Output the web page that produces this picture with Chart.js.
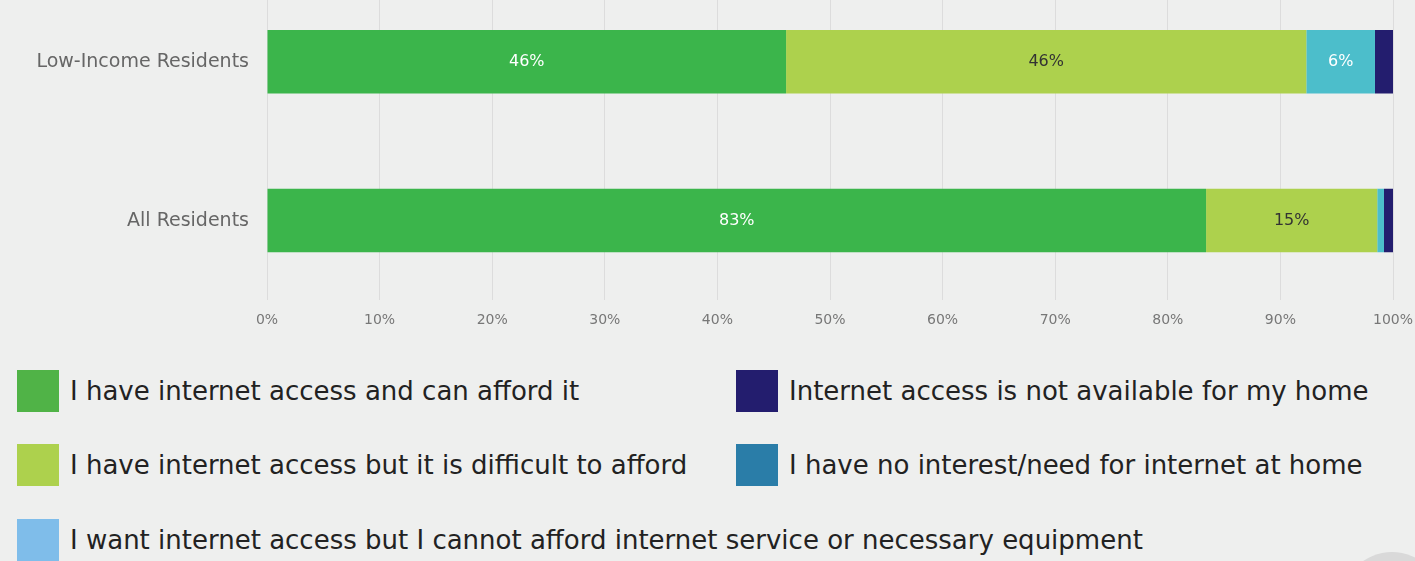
<!DOCTYPE html>
<html>
<head>
<meta charset="utf-8">
<script src="https://cdn.jsdelivr.net/npm/chart.js@4/dist/chart.umd.min.js"></script>
<style>
    html, body { margin: 0; padding: 0; }
    body {
        width: 1415px;
        height: 561px;
        overflow: hidden;
        position: relative;
        background: #EEEFEE;
        font-family: 'DejaVu Sans', sans-serif;
    }
    #chartWrap { position: absolute; left: 0; top: -47px; width: 1415px; height: 387px; }
    .legend-item { position: absolute; height: 42px; display: flex; align-items: center; }
    .legend-swatch { width: 42px; height: 42px; flex: none; }
    .legend-text { margin-left: 11px; font-size: 26px; color: #222; white-space: nowrap; }
    .corner-dot {
        position: absolute; left: 1341px; top: 552px;
        width: 102px; height: 102px; border-radius: 50%; background: #D9D9D9;
    }
</style>
</head>
<body>
<div id="chartWrap"><canvas id="accessChart" width="1415" height="387"></canvas></div>
<div id="legend"></div>
<div class="corner-dot"></div>
<script>
// 各组居民的上网情况（百分比）
const categories = ['Low-Income Residents', 'All Residents'];
const seriesLabels = [
    'I have internet access and can afford it',
    'I have internet access but it is difficult to afford',
    'I want internet access but I cannot afford internet service or necessary equipment',
    'Internet access is not available for my home',
    'I have no interest/need for internet at home'
];
const affordable = [46.1, 83.4];
const difficult = [46.2, 15.2];
const cannotAfford = [6.1, 0.6];
const notAvailable = [1.6, 0.8];
const noInterest = [0, 0];
const xTicks = [0, 10, 20, 30, 40, 50, 60, 70, 80, 90, 100];

const barColors = ['#3BB54B', '#ADD14D', '#4CBECB', '#231D6E', '#2A7DA8'];
const swatchColors = ['#50B347', '#ADD14D', '#7FBDEA', '#231D6E', '#2A7DA8'];
const labelColors = ['#FFFFFF', '#333333', '#FFFFFF', '#FFFFFF', '#FFFFFF'];
const seriesValues = [affordable, difficult, cannotAfford, notAvailable, noInterest];

const FONT = "'DejaVu Sans', sans-serif";

// 柱内百分比标签（太窄的段不画）
const barLabels = {
    id: 'barLabels',
    afterDatasetsDraw(chart) {
        const ctx = chart.ctx;
        ctx.save();
        ctx.font = '16px ' + FONT;
        ctx.textAlign = 'center';
        ctx.textBaseline = 'middle';
        chart.data.datasets.forEach((ds, i) => {
            const meta = chart.getDatasetMeta(i);
            meta.data.forEach((bar, j) => {
                const v = ds.data[j];
                if (v < 3) return;
                ctx.fillStyle = labelColors[i];
                ctx.fillText(Math.round(v) + '%', (bar.x + bar.base) / 2, bar.y);
            });
        });
        ctx.restore();
    }
};

new Chart(document.getElementById('accessChart'), {
    type: 'bar',
    data: {
        labels: categories,
        datasets: seriesValues.map((vals, i) => ({
            label: seriesLabels[i],
            data: vals,
            backgroundColor: barColors[i],
            borderWidth: 0,
            barPercentage: 0.5,
            categoryPercentage: 0.8
        }))
    },
    options: {
        indexAxis: 'y',
        responsive: false,
        animation: false,
        devicePixelRatio: 1,
        layout: { padding: { left: 0, right: 22, top: 0, bottom: 0 } },
        plugins: {
            legend: { display: false },
            tooltip: { enabled: false }
        },
        scales: {
            x: {
                stacked: true,
                min: 0,
                max: 100,
                afterBuildTicks: (scale) => { scale.ticks = xTicks.map(v => ({ value: v })); },
                afterFit: (scale) => {
                    scale.height = 40;
                    // 100% 标签可以伸到右侧留白里
                    scale.paddingRight = 0;
                },
                border: { display: false },
                grid: { color: '#DCDCDC', lineWidth: 1, drawTicks: false },
                ticks: {
                    padding: 12,
                    color: '#777777',
                    font: { family: FONT, size: 14 },
                    callback: (v) => v + '%'
                }
            },
            y: {
                stacked: true,
                afterFit: (scale) => { scale.width = 267; },
                border: { display: false },
                grid: { display: false, drawTicks: false },
                ticks: {
                    padding: 18,
                    color: '#666666',
                    font: { family: FONT, size: 19 }
                }
            }
        }
    },
    plugins: [barLabels]
});

// 两列图例：左列放前三项，右列放后两项
const legendEl = document.getElementById('legend');
const legendPos = [[17, 370], [17, 444], [17, 519], [736, 370], [736, 444]];
seriesLabels.forEach((name, i) => {
    const item = document.createElement('div');
    item.className = 'legend-item';
    item.style.left = legendPos[i][0] + 'px';
    item.style.top = legendPos[i][1] + 'px';
    item.innerHTML = '<span class="legend-swatch" style="background:' + swatchColors[i] + '"></span>' +
        '<span class="legend-text">' + name + '</span>';
    legendEl.appendChild(item);
});
</script>
</body>
</html>
